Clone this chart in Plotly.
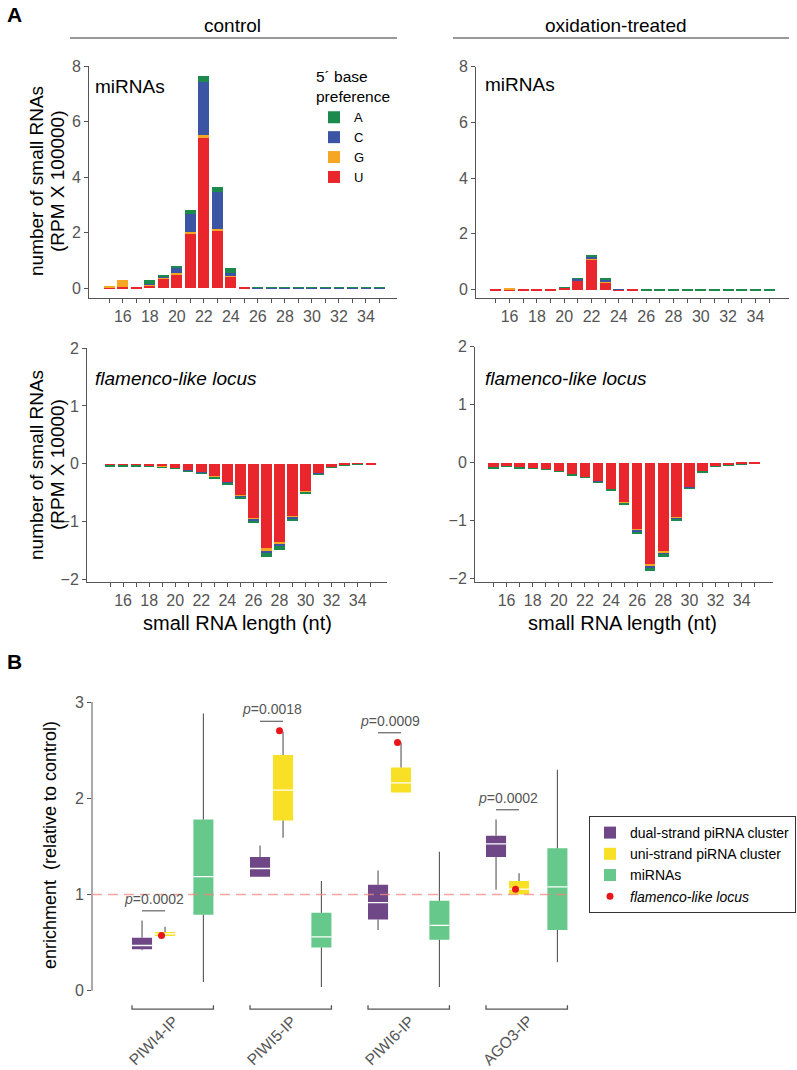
import plotly.graph_objects as go

# ---------------- DATA ----------------
lengths = list(range(15, 36))
length_ticktext = ['' if l % 2 else str(l) for l in lengths]

# Panel A, miRNAs (RPM x 100000) by 5' base, control
ctrl_mir_U = [0.01, 0.02, 0.04, 0.10, 0.33, 0.50, 1.93, 5.43, 2.07, 0.42, 0.03, 0, 0, 0, 0, 0, 0, 0, 0, 0, 0]
ctrl_mir_G = [0.03, 0.26, 0.00, 0.02, 0.04, 0.03, 0.08, 0.07, 0.04, 0.01, 0.00, 0, 0, 0, 0, 0, 0, 0, 0, 0, 0]
ctrl_mir_C = [0.00, 0.00, 0.00, 0.01, 0.05, 0.22, 0.65, 1.93, 1.34, 0.10, 0.00, 0.003, 0.003, 0.003, 0.003, 0.003, 0.003, 0.003, 0.003, 0.003, 0.003]
ctrl_mir_A = [0.00, 0.00, 0.00, 0.17, 0.03, 0.03, 0.15, 0.22, 0.19, 0.20, 0.00, 0.003, 0.003, 0.003, 0.003, 0.003, 0.003, 0.003, 0.003, 0.003, 0.003]

# Panel A, miRNAs, oxidation-treated
ox_mir_U = [0.02, 0.01, 0.03, 0.02, 0.03, 0.10, 0.35, 1.10, 0.28, 0.02, 0.005, 0, 0, 0, 0, 0, 0, 0, 0, 0, 0]
ox_mir_G = [0.00, 0.04, 0.00, 0.00, 0.00, 0.00, 0.01, 0.01, 0.01, 0.00, 0.00, 0, 0, 0, 0, 0, 0, 0, 0, 0, 0]
ox_mir_C = [0.00, 0.00, 0.00, 0.00, 0.00, 0.00, 0.04, 0.08, 0.10, 0.01, 0.00, 0.003, 0.003, 0.003, 0.003, 0.003, 0.003, 0.003, 0.003, 0.003, 0.003]
ox_mir_A = [0.00, 0.00, 0.00, 0.00, 0.00, 0.01, 0.02, 0.04, 0.03, 0.00, 0.00, 0.002, 0.002, 0.002, 0.002, 0.002, 0.002, 0.002, 0.002, 0.002, 0.002]

# Panel A, flamenco-like locus (RPM x 10000, antisense = negative), control
ctrl_flam_U = [-0.035, -0.035, -0.035, -0.045, -0.053, -0.072, -0.115, -0.15, -0.22, -0.32, -0.54, -0.94, -1.47, -1.36, -0.91, -0.48, -0.17, -0.064, -0.028, -0.014, -0.01]
ctrl_flam_G = [0, 0, 0, 0, -0.002, -0.003, -0.005, -0.005, -0.01, -0.01, -0.02, -0.02, -0.03, -0.03, -0.02, -0.01, -0.005, -0.002, 0, 0, 0]
ctrl_flam_C = [-0.002, -0.002, -0.002, -0.002, -0.002, -0.002, -0.005, -0.005, -0.008, -0.01, -0.015, -0.02, -0.04, -0.03, -0.02, -0.01, -0.005, -0.002, -0.001, 0, 0]
ctrl_flam_A = [-0.003, -0.003, -0.003, -0.003, -0.003, -0.003, -0.005, -0.01, -0.012, -0.02, -0.025, -0.04, -0.07, -0.06, -0.04, -0.02, -0.01, -0.002, -0.001, -0.001, 0]

# Panel A, flamenco-like locus, oxidation-treated
ox_flam_U = [-0.085, -0.065, -0.085, -0.094, -0.113, -0.141, -0.197, -0.244, -0.32, -0.452, -0.69, -1.15, -1.76, -1.53, -0.945, -0.425, -0.151, -0.066, -0.038, -0.019, -0.01]
ox_flam_G = [-0.001, -0.001, -0.001, -0.002, -0.002, -0.002, -0.003, -0.004, -0.005, -0.007, -0.01, -0.02, -0.025, -0.025, -0.015, -0.007, -0.002, -0.001, 0, 0, 0]
ox_flam_C = [-0.001, -0.001, -0.001, -0.001, -0.001, -0.002, -0.003, -0.004, -0.005, -0.007, -0.008, -0.015, -0.025, -0.02, -0.01, -0.005, -0.002, -0.001, -0.001, 0, 0]
ox_flam_A = [-0.003, -0.003, -0.003, -0.003, -0.004, -0.005, -0.007, -0.008, -0.01, -0.014, -0.022, -0.035, -0.05, -0.045, -0.03, -0.013, -0.005, -0.002, -0.001, -0.001, 0]

# Panel B: enrichment (relative to control)
ip_groups = ['PIWI4-IP', 'PIWI5-IP', 'PIWI6-IP', 'AGO3-IP']
dual_q1 = [0.43, 1.185, 0.74, 1.39]
dual_med = [0.47, 1.27, 0.915, 1.525]
dual_q3 = [0.55, 1.39, 1.10, 1.61]
dual_lo = [0.42, 1.185, 0.63, 1.05]
dual_hi = [0.73, 1.51, 1.25, 1.78]

uni_q1 = [0.57, 1.77, 2.06, 1.00]
uni_med = [0.59, 2.085, 2.16, 1.055]
uni_q3 = [0.61, 2.45, 2.32, 1.14]
uni_lo = [0.57, 1.59, 2.06, 1.00]
uni_hi = [0.665, 2.69, 2.58, 1.22]

mir_q1 = [0.79, 0.45, 0.53, 0.63]
mir_med = [1.185, 0.56, 0.68, 1.08]
mir_q3 = [1.78, 0.81, 0.935, 1.48]
mir_lo = [0.09, 0.04, 0.04, 0.295]
mir_hi = [2.88, 1.14, 1.445, 2.295]

flam_enrich = [0.575, 2.70, 2.58, 1.055]
p_values = ['0.0002', '0.0018', '0.0009', '0.0002']

# ---------------- STYLE ----------------
FONT = 'Liberation Sans, Arial, Helvetica, sans-serif'
GREY = '#555555'
base_colors = {'U': '#E8262B', 'G': '#F6A623', 'C': '#3B55A4', 'A': '#1B8A4C'}
box_colors = {'dual': '#6F4787', 'uni': '#F8E026', 'mir': '#66C98B'}
W, H = 797, 1070


def px(x):
    return x / W


def py(y):
    return 1 - y / H


fig = go.Figure()

panels = [
    ('x', 'y', [ctrl_mir_U, ctrl_mir_G, ctrl_mir_C, ctrl_mir_A], True),
    ('x2', 'y2', [ox_mir_U, ox_mir_G, ox_mir_C, ox_mir_A], False),
    ('x3', 'y3', [ctrl_flam_U, ctrl_flam_G, ctrl_flam_C, ctrl_flam_A], False),
    ('x4', 'y4', [ox_flam_U, ox_flam_G, ox_flam_C, ox_flam_A], False),
]
for xa, ya, series, show in panels:
    for base, vals in zip(['U', 'G', 'C', 'A'], series):
        fig.add_trace(go.Bar(
            x=lengths, y=vals, name=base, xaxis=xa, yaxis=ya, width=0.8,
            marker=dict(color=base_colors[base], line=dict(width=0)),
            showlegend=show, legend='legend2', legendgroup=base,
        ))

# ---- Panel B boxes ----
BOX_W = 0.17
offsets = {'dual': -0.195, 'uni': 0.0, 'mir': 0.325}
box_sets = [
    ('dual', 'dual-strand piRNA cluster', dual_q1, dual_med, dual_q3, dual_lo, dual_hi),
    ('uni', 'uni-strand piRNA cluster', uni_q1, uni_med, uni_q3, uni_lo, uni_hi),
    ('mir', 'miRNAs', mir_q1, mir_med, mir_q3, mir_lo, mir_hi),
]
grp_idx = list(range(len(ip_groups)))
for key, label, q1, med, q3, lo, hi in box_sets:
    pos = [g + offsets[key] for g in grp_idx]
    wx, wy = [], []
    for p, a, b, c, d in zip(pos, lo, q1, q3, hi):
        wx += [p, p, None, p, p, None]
        wy += [c, d, None, a, b, None]
    fig.add_trace(go.Scatter(x=wx, y=wy, mode='lines', xaxis='x5', yaxis='y5',
                             line=dict(color=GREY, width=1.1), showlegend=False, hoverinfo='skip'))
    fig.add_trace(go.Box(
        x=pos, q1=q1, median=med, q3=q3, lowerfence=lo, upperfence=hi,
        name=label, xaxis='x5', yaxis='y5', width=BOX_W, whiskerwidth=0,
        fillcolor=box_colors[key], line=dict(width=0, color=box_colors[key]),
        boxpoints=False, legend='legend', showlegend=True,
    ))
    mx, my = [], []
    for p, m in zip(pos, med):
        mx += [p - BOX_W / 2, p + BOX_W / 2, None]
        my += [m, m, None]
    fig.add_trace(go.Scatter(x=mx, y=my, mode='lines', xaxis='x5', yaxis='y5',
                             line=dict(color='white', width=1.3), showlegend=False, hoverinfo='skip'))

fig.add_trace(go.Scatter(
    x=[g - 0.03 for g in grp_idx], y=flam_enrich, mode='markers', xaxis='x5', yaxis='y5',
    marker=dict(color='#E8161B', size=7), name='<i>flamenco-like locus</i>', legend='legend',
))

# ---------------- LAYOUT ----------------
tickfont = dict(family=FONT, size=16, color=GREY)
common = dict(showgrid=False, zeroline=False, showline=True, linecolor=GREY, linewidth=1,
              ticks='outside', ticklen=4, tickcolor=GREY, tickwidth=1, tickfont=tickfont)
xlen = dict(tickmode='array', tickvals=lengths, ticktext=length_ticktext)

layout = dict(
    width=W, height=H, margin=dict(l=0, r=0, t=0, b=0, autoexpand=False),
    paper_bgcolor='white', plot_bgcolor='white', barmode='relative', bargap=0,
    font=dict(family=FONT, color='black'),
    xaxis=dict(domain=[px(89), px(397)], range=[13.5, 36.3], anchor='y', **xlen, **common),
    yaxis=dict(domain=[py(298), py(66)], range=[-0.36, 8], anchor='x', tickvals=[0, 2, 4, 6, 8], **common),
    xaxis2=dict(domain=[px(476), px(789)], range=[13.54, 36.46], anchor='y2', **xlen, **common),
    yaxis2=dict(domain=[py(298), py(66.5)], range=[-0.3, 8], anchor='x2', tickvals=[0, 2, 4, 6, 8], **common),
    xaxis3=dict(domain=[px(87), px(387)], range=[13.23, 36.25], anchor='y3', **xlen, **common),
    yaxis3=dict(domain=[py(582), py(348)], range=[-2.04, 2], anchor='x3', tickvals=[-2, -1, 0, 1, 2], **common),
    xaxis4=dict(domain=[px(475), px(773)], range=[13.58, 36.4], anchor='y4', **xlen, **common),
    yaxis4=dict(domain=[py(582), py(346.7)], range=[-2.06, 2], anchor='x4', tickvals=[-2, -1, 0, 1, 2], **common),
    xaxis5=dict(domain=[px(92), px(600)], range=[-0.619, 3.686], anchor='y5', visible=False),
    yaxis5=dict(domain=[py(1014.8), py(702)], range=[-0.25, 3], anchor='x5', tickvals=[0, 1, 2, 3],
                showgrid=False, zeroline=False, showline=False, ticks='outside', ticklen=4,
                tickcolor=GREY, tickfont=dict(family=FONT, size=16, color=GREY)),
    legend=dict(x=px(796), y=py(816), xanchor='right', yanchor='top', bgcolor='white',
                bordercolor='#333333', borderwidth=1, font=dict(family=FONT, size=14, color='black'),
                tracegroupgap=0, itemwidth=30),
    legend2=dict(x=px(314), y=py(62), xanchor='left', yanchor='top', bgcolor='rgba(0,0,0,0)',
                 title=dict(text='5´ base<br>preference', font=dict(family=FONT, size=15.5, color='black')),
                 font=dict(family=FONT, size=13, color='black'), traceorder='reversed',
                 tracegroupgap=0, itemwidth=30),
)
fig.update_layout(**layout)

ann = []
shapes = []


def text(x, y, s, size, xanchor='center', yanchor='middle', **kw):
    d = dict(x=x, y=y, xref='paper', yref='paper', text=s, showarrow=False,
             xanchor=xanchor, yanchor=yanchor,
             font=dict(family=FONT, size=size, color=kw.pop('color', 'black')))
    d.update(kw)
    ann.append(d)


text(px(14), py(15), '<b>A</b>', 21)
text(px(14), py(661), '<b>B</b>', 21)
text(px(232), py(26), 'control', 19)
text(px(616), py(26), 'oxidation-treated', 19)
shapes.append(dict(type='line', xref='paper', yref='paper', x0=px(70), x1=px(397), y0=py(38), y1=py(38),
                   line=dict(color='#333333', width=1)))
shapes.append(dict(type='line', xref='paper', yref='paper', x0=px(453), x1=px(789), y0=py(38), y1=py(38),
                   line=dict(color='#333333', width=1)))
text(px(93), py(87), 'miRNAs', 19, xanchor='left')
text(px(483), py(84), 'miRNAs', 19, xanchor='left')
text(px(93), py(378), '<i>flamenco-like locus</i>', 19, xanchor='left')
text(px(483), py(378), '<i>flamenco-like locus</i>', 19, xanchor='left')
text(px(36), py(181), 'number of small RNAs', 19, textangle=-90)
text(px(57), py(181), '(RPM X 100000)', 19, textangle=-90)
text(px(36), py(465), 'number of small RNAs', 19, textangle=-90)
text(px(57), py(465), '(RPM X 10000)', 19, textangle=-90)
text(px(237), py(623), 'small RNA length (nt)', 20)
text(px(622), py(623), 'small RNA length (nt)', 20)
text(px(50), py(845), 'enrichment  (relative to control)', 18, textangle=-90)

# panel B decorations
shapes.append(dict(type='line', xref='x5 domain', yref='y5', x0=0, x1=0, y0=0, y1=3,
                   line=dict(color=GREY, width=1)))
shapes.append(dict(type='line', xref='x5 domain', yref='y5', x0=0, x1=0.934, y0=1, y1=1, layer='above',
                   opacity=0.75, line=dict(color='#F2877C', width=1.5, dash='10px,6px')))
for g, name in enumerate(ip_groups):
    a, b = g - 0.28, g + 0.41
    shapes.append(dict(type='path', xref='x5', yref='y5',
                       path=f'M{a},-0.15 L{a},-0.19 L{b},-0.19 L{b},-0.15',
                       line=dict(color=GREY, width=1.3)))
    ann.append(dict(x=g - 0.1, y=py(1040), xref='x5', yref='paper', text=name, showarrow=False,
                    xanchor='center', yanchor='middle',
                    textangle=-45, font=dict(family=FONT, size=15.5, color=GREY)))
    top = max(dual_hi[g], uni_hi[g], flam_enrich[g]) + 0.1
    x0, x1 = g + offsets['dual'], g + offsets['uni']
    shapes.append(dict(type='line', xref='x5', yref='y5', x0=x0, x1=x1, y0=top, y1=top,
                       line=dict(color='#444444', width=1)))
    ann.append(dict(x=(x0 + x1) / 2, y=top + 0.02, xref='x5', yref='y5', yanchor='bottom',
                    xanchor='center', text=f'<i>p</i>={p_values[g]}', showarrow=False,
                    font=dict(family=FONT, size=14, color=GREY)))

fig.update_layout(annotations=ann, shapes=shapes)
fig.write_html('out.html', config={'displayModeBar': False},
               post_script="document.body.style.margin='0px';document.body.style.overflow='hidden';")
